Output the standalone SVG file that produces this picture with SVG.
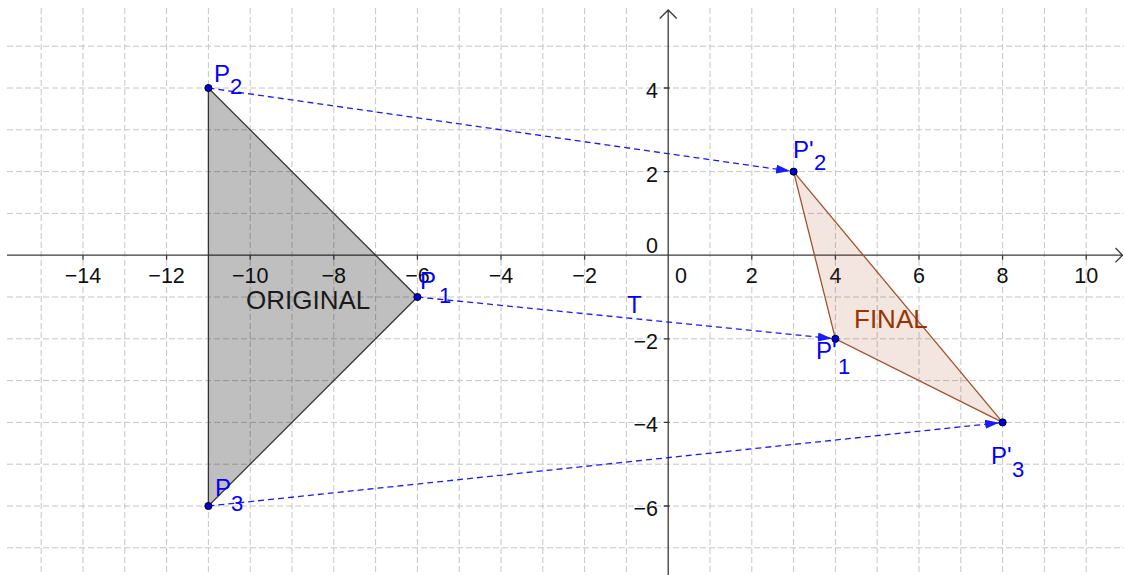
<svg xmlns="http://www.w3.org/2000/svg" width="1124" height="575" viewBox="0 0 1124 575">
<style>
.grid{stroke:#c6c6c6;stroke-width:1;stroke-dasharray:6 3;fill:none}
.axis{stroke:#3a3a3a;stroke-width:1.3;fill:none}
.num{font-family:"Liberation Sans",Arial,sans-serif;font-size:21.5px;fill:#111}
.xn{text-anchor:middle}
.yn{text-anchor:end}
.lbl{font-family:"Liberation Sans",Arial,sans-serif;font-size:24px;fill:#0000ff}
.sub{font-size:22px}
.vec{stroke:#1a1aff;stroke-width:1.3;stroke-dasharray:6 4;fill:none}
.pt{fill:#0000d8;stroke:#000;stroke-width:0.9}
.big{font-family:"Liberation Sans",Arial,sans-serif;font-size:26px}
</style>
<defs>
<marker id="ah" markerUnits="userSpaceOnUse" markerWidth="15" markerHeight="10" refX="14" refY="4.5" orient="auto">
<path d="M0,0 L14,4.5 L0,9 z" fill="#1a1aff" stroke="none"/>
</marker>
</defs>
<rect width="1124" height="575" fill="#fff"/>
<g id="grid">
<path class="grid" d="M41.2,8V575M83,8V575M124.8,8V575M166.6,8V575M208.4,8V575M250.2,8V575M292,8V575M333.8,8V575M375.6,8V575M417.4,8V575M459.2,8V575M501,8V575M542.8,8V575M584.6,8V575M626.4,8V575M710,8V575M751.8,8V575M793.6,8V575M835.4,8V575M877.2,8V575M919,8V575M960.8,8V575M1002.6,8V575M1044.4,8V575M1086.2,8V575"/>
<path class="grid" d="M7,46.2H1124M7,88H1124M7,129.8H1124M7,171.6H1124M7,213.4H1124M7,297H1124M7,338.8H1124M7,380.6H1124M7,422.4H1124M7,464.2H1124M7,506H1124M7,547.8H1124"/>
</g>
<g id="axes">
<path class="axis" d="M7,255.2H1122M1115.5,248L1122.5,255.2L1115.5,262.4"/>
<path class="axis" d="M668.2,575V10M659.7,18.5L668.2,10L676.7,18.5"/>
<path class="axis" d="M83,255.2v4.5M166.6,255.2v4.5M250.2,255.2v4.5M333.8,255.2v4.5M417.4,255.2v4.5M501,255.2v4.5M584.6,255.2v4.5M751.8,255.2v4.5M835.4,255.2v4.5M919,255.2v4.5M1002.6,255.2v4.5M1086.2,255.2v4.5"/>
<path class="axis" d="M663.7,88h6M663.7,171.6h6M663.7,338.8h6M663.7,422.4h6M663.7,506h6"/>
</g>
<g id="axis-labels">
<text class="num xn" x="83" y="283">−14</text>
<text class="num xn" x="166.6" y="283">−12</text>
<text class="num xn" x="250.2" y="283">−10</text>
<text class="num xn" x="333.8" y="283">−8</text>
<text class="num xn" x="417.4" y="283">−6</text>
<text class="num xn" x="501" y="283">−4</text>
<text class="num xn" x="584.6" y="283">−2</text>
<text class="num xn" x="681" y="283">0</text>
<text class="num xn" x="751.8" y="283">2</text>
<text class="num xn" x="835.4" y="283">4</text>
<text class="num xn" x="919" y="283">6</text>
<text class="num xn" x="1002.6" y="283">8</text>
<text class="num xn" x="1086.2" y="283">10</text>
<text class="num yn" x="658" y="98">4</text>
<text class="num yn" x="658" y="181.6">2</text>
<text class="num yn" x="658" y="253">0</text>
<text class="num yn" x="658" y="348.8">−2</text>
<text class="num yn" x="658" y="432.4">−4</text>
<text class="num yn" x="658" y="516">−6</text>
</g>
<g id="original">
<polygon points="417.4,297 208.4,88 208.4,506" fill="#000" fill-opacity="0.25" stroke="#333" stroke-width="1.3"/>
<text class="big" x="246" y="309" fill="#1a1a1a">ORIGINAL</text>
</g>
<g id="final">
<polygon points="835.4,338.8 793.6,171.6 1002.6,422.4" fill="#993300" fill-opacity="0.12" stroke="#a0522d" stroke-width="1.3"/>
<text class="big" x="854" y="328" fill="#993300">FINAL</text>
</g>
<g id="connectors">
<line class="vec" x1="208.4" y1="88" x2="790.1" y2="171.1" marker-end="url(#ah)"/>
<line class="vec" x1="417.4" y1="297" x2="831.9" y2="338.45" marker-end="url(#ah)"/>
<line class="vec" x1="208.4" y1="506" x2="999.1" y2="422.8" marker-end="url(#ah)"/>
<text class="lbl" x="627" y="313">T</text>
</g>
<g id="P2">
<circle class="pt" cx="208.4" cy="88" r="3.6"/>
<text class="lbl" x="214" y="82">P<tspan class="sub" x="230" y="94">2</tspan></text>
</g>
<g id="P1">
<circle class="pt" cx="417.4" cy="297" r="3.6"/>
<text class="lbl" x="420" y="289">P<tspan class="sub" x="439" y="303">1</tspan></text>
</g>
<g id="P3">
<circle class="pt" cx="208.4" cy="506" r="3.6"/>
<text class="lbl" x="215" y="496">P<tspan class="sub" x="231" y="511">3</tspan></text>
</g>
<g id="P2prime">
<circle class="pt" cx="793.6" cy="171.6" r="3.6"/>
<text class="lbl" x="793" y="158">P'<tspan class="sub" x="814" y="170">2</tspan></text>
</g>
<g id="P1prime">
<circle class="pt" cx="835.4" cy="338.8" r="3.6"/>
<text class="lbl" x="816" y="359">P'<tspan class="sub" x="838" y="374">1</tspan></text>
</g>
<g id="P3prime">
<circle class="pt" cx="1002.6" cy="422.4" r="3.6"/>
<text class="lbl" x="991" y="464">P'<tspan class="sub" x="1012" y="477">3</tspan></text>
</g>
</svg>
